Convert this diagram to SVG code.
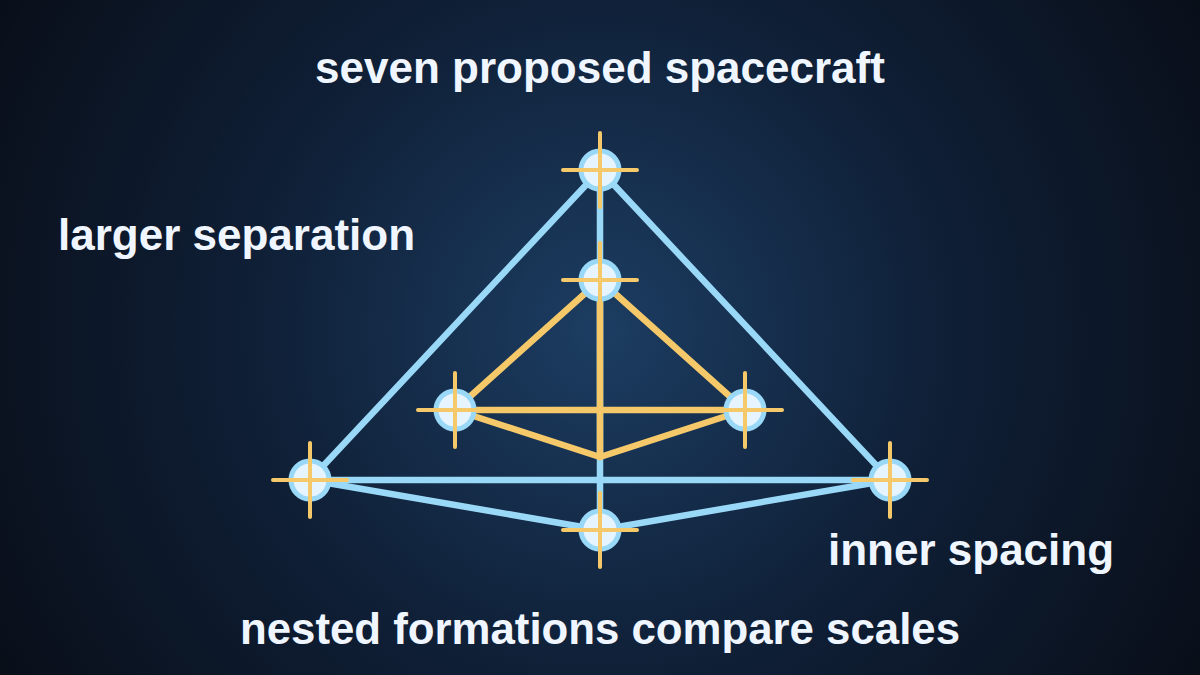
<svg xmlns="http://www.w3.org/2000/svg" width="1200" height="675" viewBox="0 0 1200 675">
<defs>
<radialGradient id="bg" cx="600" cy="330" r="700" gradientUnits="userSpaceOnUse">
<stop offset="0" stop-color="#1c3d62"/>
<stop offset="0.5" stop-color="#0f1f36"/>
<stop offset="1" stop-color="#090e18"/>
</radialGradient>
<style>
.lbl{font-family:"Liberation Sans",Arial,sans-serif;font-weight:bold;font-size:44px;fill:#f0f6ff}
.blue{stroke:#9ad8f8;stroke-width:6.5;fill:none;stroke-linecap:round}
.gold{stroke:#f5c96a;stroke-width:6.5;fill:none;stroke-linecap:round}
.body{fill:#e6f4ff;stroke:#9ad8f8;stroke-width:5}
.cross{stroke:#f5c96a;stroke-width:4;stroke-linecap:round}
</style>
<g id="sc">
<circle class="body" r="19"/>
<line class="cross" x1="-37" y1="0" x2="37" y2="0"/>
<line class="cross" x1="0" y1="-37" x2="0" y2="37"/>
</g>
</defs>
<rect width="1200" height="675" fill="url(#bg)"/>
<g id="connectors">
<line class="blue" x1="600" y1="170" x2="310" y2="480"/>
<line class="blue" x1="600" y1="170" x2="890" y2="480"/>
<line class="blue" x1="310" y1="480" x2="890" y2="480"/>
<line class="blue" x1="310" y1="480" x2="600" y2="530"/>
<line class="blue" x1="600" y1="530" x2="890" y2="480"/>
<line class="blue" x1="600" y1="170" x2="600" y2="530"/>
<line class="gold" x1="600" y1="280" x2="455" y2="410"/>
<line class="gold" x1="600" y1="280" x2="745" y2="410"/>
<line class="gold" x1="455" y1="410" x2="745" y2="410"/>
<line class="gold" x1="455" y1="410" x2="600" y2="457"/>
<line class="gold" x1="745" y1="410" x2="600" y2="457"/>
<line class="gold" x1="600" y1="280" x2="600" y2="457"/>
</g>
<g id="node-top"><use href="#sc" x="600" y="170"/></g>
<g id="node-inner-top"><use href="#sc" x="600" y="280"/></g>
<g id="node-inner-left"><use href="#sc" x="455" y="410"/></g>
<g id="node-inner-right"><use href="#sc" x="745" y="410"/></g>
<g id="node-bottom-left"><use href="#sc" x="310" y="480"/></g>
<g id="node-bottom-right"><use href="#sc" x="890" y="480"/></g>
<g id="node-bottom"><use href="#sc" x="600" y="530"/></g>
<g id="labels">
<text class="lbl" x="600" y="83" text-anchor="middle">seven proposed spacecraft</text>
<text class="lbl" x="58" y="250">larger separation</text>
<text class="lbl" x="828" y="565">inner spacing</text>
<text class="lbl" x="600" y="644" text-anchor="middle" textLength="720" lengthAdjust="spacingAndGlyphs">nested formations compare scales</text>
</g>
</svg>
